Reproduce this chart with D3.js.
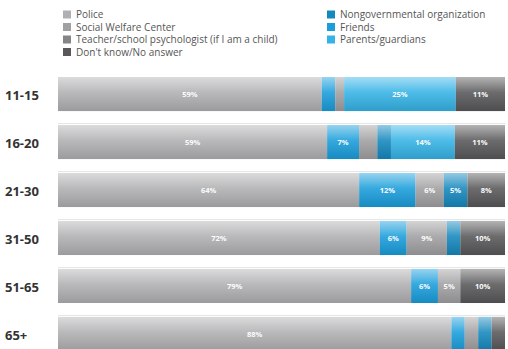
<!DOCTYPE html>
<html>
<head>
<meta charset="utf-8">
<script src="https://cdn.jsdelivr.net/npm/d3@7"></script>
<style>
  body { margin: 0; background: #ffffff; }
  svg { display: block; font-family: "Open Sans", "Noto Sans", sans-serif; }
</style>
</head>
<body>
<div id="chart"></div>
<script>
// age groups (rows)
var ageGroups = ["11-15", "16-20", "21-30", "31-50", "51-65", "65+"];

// series, in stacking order
var seriesNames = ["Police", "Friends", "Social Welfare Center", "Teacher/school psychologist (if I am a child)",
  "Nongovernmental organization", "Parents/guardians", "Don't know/No answer"];

// values per series, one per age group (%)
var police       = [59, 59, 64, 72, 79, 88];
var friends      = [3, 7, 12, 6, 6, 3];
var socialCenter = [2, 4, 6, 9, 5, 3];
var teacher      = [0, 0, 0, 0, 0, 0];
var ngo          = [0, 3, 5, 3, 0, 3];
var parents      = [25, 14, 0, 0, 0, 0];
var dontKnow     = [11, 11, 8, 10, 10, 3];

var seriesValues = [police, friends, socialCenter, teacher, ngo, parents, dontKnow];

// legend layout order (two columns)
var legendLeft = ["Police", "Social Welfare Center", "Teacher/school psychologist (if I am a child)", "Don't know/No answer"];
var legendRight = ["Nongovernmental organization", "Friends", "Parents/guardians"];

var colors = {
  "Police": "#b0b0b2",
  "Social Welfare Center": "#a0a0a2",
  "Teacher/school psychologist (if I am a child)": "#858587",
  "Don't know/No answer": "#58585a",
  "Nongovernmental organization": "#1588bd",
  "Friends": "#1a9edb",
  "Parents/guardians": "#35b3e6"
};

var width = 508, height = 349;
var margin = { left: 58, right: 3 };

var svg = d3.select("#chart").append("svg")
  .attr("width", width).attr("height", height);

// glossy overlay gradient
var defs = svg.append("defs");
var grad = defs.append("linearGradient").attr("id", "gloss")
  .attr("x1", 0).attr("y1", 0).attr("x2", 0).attr("y2", 1);
grad.append("stop").attr("offset", "0%").attr("stop-color", "#fff").attr("stop-opacity", 0.55);
grad.append("stop").attr("offset", "45%").attr("stop-color", "#fff").attr("stop-opacity", 0.12);
grad.append("stop").attr("offset", "100%").attr("stop-color", "#000").attr("stop-opacity", 0.12);

// legend
function drawLegend(items, x0) {
  var g = svg.append("g").attr("transform", "translate(" + x0 + ",0)");
  items.forEach(function (name, i) {
    var y = 14.5 + i * 12.5;
    g.append("rect").attr("x", 0).attr("y", y - 4).attr("width", 8).attr("height", 8)
      .attr("fill", colors[name]);
    g.append("text").attr("x", 13).attr("y", y).attr("dy", "0.35em")
      .attr("font-size", 10).attr("fill", "#555").text(name);
  });
}
drawLegend(legendLeft, 63);
drawLegend(legendRight, 327);

var y = d3.scaleBand().domain(ageGroups).range([77, 351]).paddingInner(0.29).paddingOuter(0);
var barH = y.bandwidth();

ageGroups.forEach(function (age, r) {
  var total = d3.sum(seriesValues, function (s) { return s[r]; });
  var x = d3.scaleLinear().domain([0, total]).range([margin.left, width - margin.right]);
  var row = svg.append("g");
  var y0 = y(age);

  // separator line above each row except first
  if (r > 0) {
    row.append("line")
      .attr("x1", margin.left).attr("x2", width - margin.right)
      .attr("y1", y0 - 1.5).attr("y2", y0 - 1.5)
      .attr("stroke", "#e6e6e6").attr("stroke-width", 1);
  }

  var acc = 0;
  seriesNames.forEach(function (name, s) {
    var v = seriesValues[s][r];
    if (v <= 0) return;
    var xs = x(acc), xe = x(acc + v);
    row.append("rect")
      .attr("x", xs).attr("y", y0)
      .attr("width", xe - xs).attr("height", barH)
      .attr("fill", colors[name]);
    if (v >= 5) {
      row.append("text")
        .attr("x", (xs + xe) / 2).attr("y", y0 + barH / 2).attr("dy", "0.35em")
        .attr("text-anchor", "middle").attr("font-size", 7.5).attr("font-weight", "bold")
        .attr("fill", "#ffffff").text(v + "%");
    }
    acc += v;
  });

  row.append("rect")
    .attr("x", margin.left).attr("y", y0)
    .attr("width", x(total) - margin.left).attr("height", barH)
    .attr("fill", "url(#gloss)");

  row.append("text")
    .attr("x", 5).attr("y", y0 + barH / 2 + 1).attr("dy", "0.35em")
    .attr("font-size", 13).attr("font-weight", "bold").attr("fill", "#333")
    .text(age);
});
</script>
</body>
</html>
